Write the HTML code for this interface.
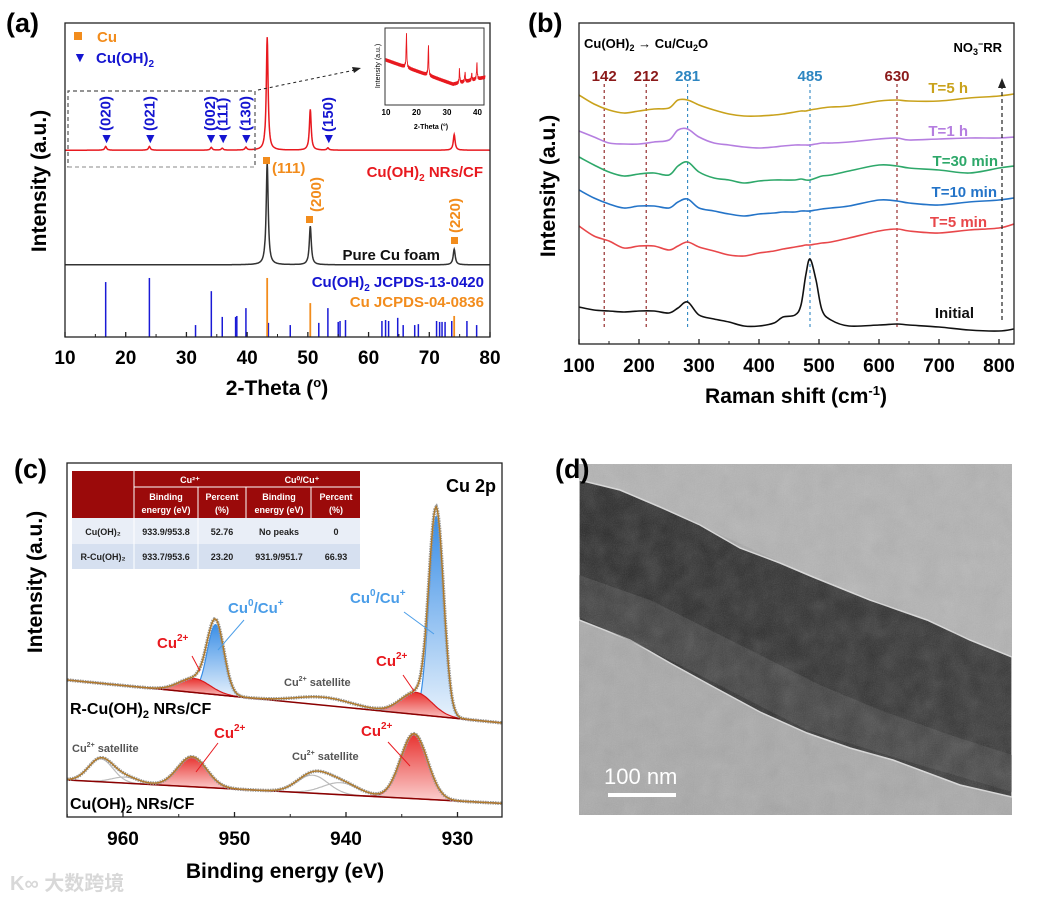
<!DOCTYPE html>
<html><head><meta charset="utf-8"><style>
html,body{margin:0;padding:0;background:#fff;}
svg{display:block;font-family:"Liberation Sans","Noto Sans CJK SC",sans-serif;}
.b{font-weight:bold;}
</style></head><body>
<svg id="fig" width="1038" height="900" viewBox="0 0 1038 900">
<defs>
<linearGradient id="blueg" x1="0" y1="0" x2="0" y2="1"><stop offset="0" stop-color="#3a8ee6"/><stop offset="1" stop-color="#e8f2fc"/></linearGradient>
<linearGradient id="redg" x1="0" y1="0" x2="0" y2="1"><stop offset="0" stop-color="#e8322f"/><stop offset="1" stop-color="#fbd0cf"/></linearGradient>
<linearGradient id="bandg" x1="0" y1="0" x2="1" y2="1"><stop offset="0" stop-color="#262626"/><stop offset="0.5" stop-color="#2c2c2c"/><stop offset="1" stop-color="#353535"/></linearGradient>
<filter id="noise"><feTurbulence type="fractalNoise" baseFrequency="0.9" numOctaves="2" seed="3"/><feColorMatrix type="saturate" values="0"/><feComponentTransfer><feFuncA type="linear" slope="0.18"/></feComponentTransfer></filter>
<filter id="blot"><feTurbulence type="fractalNoise" baseFrequency="0.05" numOctaves="3" seed="7"/><feColorMatrix type="saturate" values="0"/><feComponentTransfer><feFuncA type="linear" slope="0.35"/></feComponentTransfer></filter>
<clipPath id="clipB"><rect x="579" y="23" width="435" height="321"/></clipPath>
<clipPath id="clipC"><rect x="67" y="463" width="435" height="354"/></clipPath>
<clipPath id="clipD"><rect x="579" y="464" width="433" height="351"/></clipPath>
</defs>

<!-- ========== PANEL A ========== -->
<g id="panelA">
<text x="6" y="32" class="b" font-size="27">(a)</text>
<g id="aSticks"></g>
<g id="aCurves"></g>
<rect x="65" y="23" width="425" height="314" fill="none" stroke="#222" stroke-width="1.3"/>
<g id="aTicks"></g>
<text x="277" y="395" text-anchor="middle" class="b" font-size="21">2-Theta (<tspan font-size="13" dy="-8">o</tspan><tspan dy="8">)</tspan></text>
<text transform="translate(46,181) rotate(-90)" text-anchor="middle" class="b" font-size="21">Intensity (a.u.)</text>
<rect x="74" y="32" width="8" height="8" fill="#f28c1c"/>
<text x="97" y="42" class="b" font-size="15" fill="#f28c1c">Cu</text>
<text x="73" y="62" font-size="14" fill="#1515d0">▼</text>
<text x="96" y="63" class="b" font-size="15" fill="#1515d0">Cu(OH)<tspan font-size="10" dy="4">2</tspan></text>
<path d="M68,167 L255,167 L255,91 L68,91 Z" fill="none" stroke="#555" stroke-dasharray="4,3" stroke-width="1.2"/>
<path d="M68,167 L255,167" stroke="#bbb" stroke-dasharray="4,3" stroke-width="1.2" fill="none"/>
<line x1="258" y1="90" x2="355" y2="70" stroke="#222" stroke-dasharray="3,3" stroke-width="1"/>
<path d="M361,68 L352,67 L354,73 Z" fill="#222"/>
<g id="aAnn" fill="#1515d0" class="b" font-size="15"></g>
<text x="272" y="173" class="b" font-size="15" fill="#f28c1c">(111)</text>
<rect x="263" y="157" width="7" height="7" fill="#f28c1c"/>
<rect x="306" y="216" width="7" height="7" fill="#f28c1c"/>
<text transform="translate(321,212) rotate(-90)" class="b" font-size="15" fill="#f28c1c">(200)</text>
<rect x="451" y="237" width="7" height="7" fill="#f28c1c"/>
<text transform="translate(460,233) rotate(-90)" class="b" font-size="15" fill="#f28c1c">(220)</text>
<text x="483" y="177" text-anchor="end" class="b" font-size="15" fill="#e8191f">Cu(OH)<tspan font-size="10" dy="4">2</tspan><tspan dy="-4"> NRs/CF</tspan></text>
<text x="440" y="260" text-anchor="end" class="b" font-size="15" fill="#111">Pure Cu foam</text>
<text x="484" y="287" text-anchor="end" class="b" font-size="15" fill="#1515d0">Cu(OH)<tspan font-size="10" dy="4">2</tspan><tspan dy="-4"> JCPDS-13-0420</tspan></text>
<text x="484" y="307" text-anchor="end" class="b" font-size="15" fill="#f28c1c">Cu JCPDS-04-0836</text>
<g id="inset">
<rect x="385" y="28" width="99" height="77" fill="#fff" stroke="#333" stroke-width="1"/>
<g id="insetCurve"></g>
<text transform="translate(380,66) rotate(-90)" text-anchor="middle" font-size="7">Intensity (a.u.)</text>
<g id="insetTicks" font-size="8" font-weight="bold"></g>
<text x="431" y="129" text-anchor="middle" font-size="7" font-weight="bold">2-Theta (°)</text>
</g>
</g>

<!-- ========== PANEL B ========== -->
<g id="panelB">
<text x="528" y="32" class="b" font-size="27">(b)</text>
<g id="bGuides"></g>
<g id="bCurves" clip-path="url(#clipB)"></g>
<rect x="579" y="23" width="435" height="321" fill="none" stroke="#222" stroke-width="1.3"/>
<g id="bTicks"></g>
<text x="796" y="403" text-anchor="middle" class="b" font-size="21">Raman shift (cm<tspan font-size="13" dy="-8">-1</tspan><tspan dy="8">)</tspan></text>
<text transform="translate(555,186) rotate(-90)" text-anchor="middle" class="b" font-size="21">Intensity (a.u.)</text>
<text x="584" y="48" class="b" font-size="13">Cu(OH)<tspan font-size="9" dy="3">2</tspan><tspan dy="-3"> → Cu/Cu</tspan><tspan font-size="9" dy="3">2</tspan><tspan dy="-3">O</tspan></text>
<text x="1002" y="52" text-anchor="end" class="b" font-size="13">NO<tspan font-size="9" dy="3">3</tspan><tspan font-size="9" dy="-8">−</tspan><tspan dy="5">RR</tspan></text>
<g id="bSeriesLabels" class="b" font-size="15"></g>
<line x1="1002" y1="320" x2="1002" y2="88" stroke="#222" stroke-dasharray="4,3" stroke-width="1.2"/>
<path d="M1002,78 L998,88 L1006,88 Z" fill="#222"/>
</g>

<!-- ========== PANEL C ========== -->
<g id="panelC">
<text x="14" y="478" class="b" font-size="27">(c)</text>
<g id="cCurves" clip-path="url(#clipC)"></g>
<rect x="67" y="463" width="435" height="354" fill="none" stroke="#222" stroke-width="1.3"/>
<g id="cTicks"></g>
<text x="285" y="878" text-anchor="middle" class="b" font-size="21">Binding energy (eV)</text>
<text transform="translate(42,582) rotate(-90)" text-anchor="middle" class="b" font-size="21">Intensity (a.u.)</text>
<text x="496" y="492" text-anchor="end" class="b" font-size="18">Cu 2p</text>
<g id="xpsTable" font-size="9" font-weight="bold" text-anchor="middle">
<rect x="72" y="471" width="288" height="47" fill="#9b0a0a"/>
<rect x="72" y="518" width="288" height="26" fill="#e9eef7"/>
<rect x="72" y="544" width="288" height="25" fill="#d6e0f0"/>
<line x1="134" y1="471" x2="134" y2="569" stroke="#fff" stroke-width="1"/>
<line x1="134" y1="487" x2="360" y2="487" stroke="#fff" stroke-width="1"/>
<line x1="198" y1="487" x2="198" y2="569" stroke="#fff" stroke-width="1"/>
<line x1="311" y1="487" x2="311" y2="518" stroke="#fff" stroke-width="1"/>
<line x1="246" y1="487" x2="246" y2="518" stroke="#fff" stroke-width="1"/>
<g fill="#fff">
<text x="190" y="483">Cu²⁺</text><text x="302" y="483">Cu⁰/Cu⁺</text>
<text x="166" y="500">Binding</text><text x="166" y="513">energy (eV)</text>
<text x="222" y="500">Percent</text><text x="222" y="513">(%)</text>
<text x="279" y="500">Binding</text><text x="279" y="513">energy (eV)</text>
<text x="336" y="500">Percent</text><text x="336" y="513">(%)</text>
</g>
<g fill="#222">
<text x="103" y="535">Cu(OH)₂</text><text x="166" y="535">933.9/953.8</text><text x="222" y="535">52.76</text><text x="279" y="535">No peaks</text><text x="336" y="535">0</text>
<text x="103" y="560">R-Cu(OH)₂</text><text x="166" y="560">933.7/953.6</text><text x="222" y="560">23.20</text><text x="279" y="560">931.9/951.7</text><text x="336" y="560">66.93</text>
</g>
</g>
<g id="cAnn"></g>
</g>

<!-- ========== PANEL D ========== -->
<g id="panelD">
<g clip-path="url(#clipD)">
<rect x="579" y="464" width="433" height="351" fill="#a9a9a9"/>
<polygon points="579,464 1012,464 1012,657 927,620 813,577 660,507 579,480" fill="#b3b3b3"/>
<polygon points="579,480 620,490 660,507 700,525 740,548 780,563 813,577 870,600 927,620 970,640 1012,657 1012,797 960,785 893,760 850,748 807,733 760,712 710,685 670,663 630,640 579,620" fill="url(#bandg)" stroke="#ddd" stroke-width="1.5"/>
<polygon points="579,575 650,600 700,625 760,655 820,685 880,710 950,735 1012,755 1012,792 893,757 807,730 670,660 579,617" fill="#5a5a5a" opacity="0.4"/>
<rect x="579" y="464" width="433" height="351" filter="url(#blot)" opacity="0.5"/>
<rect x="579" y="464" width="433" height="351" filter="url(#noise)"/>
</g>
<text x="555" y="478" class="b" font-size="27">(d)</text>
<text x="604" y="784" fill="#fff" font-size="22">100 nm</text>
<rect x="608" y="793" width="68" height="4" fill="#fff"/>
</g>

<text x="10" y="890" font-size="20" fill="#d8d8d8" class="b">K∞ 大数跨境</text>
</svg>

<script>
const NS="http://www.w3.org/2000/svg";
function mk(tag,attrs,parent){const e=document.createElementNS(NS,tag);for(const k in attrs)e.setAttribute(k,attrs[k]);parent.appendChild(e);return e;}

/* ---------------- Panel A data ---------------- */
const aTickVals=[10,20,30,40,50,60,70,80];
const redPeakPos=[16.7,23.9,34.1,35.9,39.8,43.3,50.4,53.3,74.1];
const redPeakH=[1.2,1.2,0.9,0.6,0.9,36,13,0.7,5];
const redBase=59.5;
const blackPeakPos=[43.3,50.4,74.1];
const blackPeakH=[32.5,12.3,5];
const blackBase=23;
const blueStickPos=[16.7,23.9,31.5,34.1,35.9,38.1,38.3,39.8,43.5,47.1,51.8,53.3,55.0,55.3,56.2,62.2,62.8,63.3,64.8,65.7,67.6,68.2,71.2,71.7,72.1,72.6,73.7,76.2,77.8];
const blueStickH=[17.5,18.8,3.8,14.6,6.4,6.4,6.7,9.2,4.5,3.8,4.5,9.2,4.8,5.1,5.4,5.1,5.4,5.1,6.1,3.8,3.8,4.1,5.1,4.8,4.8,4.8,5.1,5.1,3.8];
const orangeStickPos=[43.3,50.4,74.1];
const orangeStickH=[18.8,10.8,6.7];
const aLabelHkl=["(020)","(021)","(002)","(111)","(130)","(150)"];
const aLabelPos=[16.7,23.9,33.9,35.9,39.7,53.3];

const xA=v=>65+(v-10)*425/70;
const yA=v=>337-v*3.14;
function xrdPath(pos,h,base,w){let d="";for(let x=10;x<=80.001;x+=0.05){let s=base;for(let i=0;i<pos.length;i++){const t=(x-pos[i])/w;s+=h[i]/(1+t*t);}d+=(d?"L":"M")+xA(x).toFixed(1)+","+yA(s).toFixed(1);}return d;}
const aC=document.getElementById("aCurves");
let p=mk("path",{d:xrdPath(redPeakPos,redPeakH,redBase,0.18),fill:"none",stroke:"#e8191f","stroke-width":1.5},aC);


p=mk("path",{d:xrdPath(blackPeakPos,blackPeakH,blackBase,0.2),fill:"none",stroke:"#333","stroke-width":1.5},aC);


const aS=document.getElementById("aSticks");
blueStickPos.forEach((v,i)=>{const l=mk("line",{x1:xA(v),x2:xA(v),y1:yA(0),y2:yA(blueStickH[i]),stroke:"#1a1ad6","stroke-width":1.5},aS);

});
orangeStickPos.forEach((v,i)=>{const l=mk("line",{x1:xA(v),x2:xA(v),y1:yA(0),y2:yA(orangeStickH[i]),stroke:"#f28c1c","stroke-width":1.8},aS);

});
const aT=document.getElementById("aTicks");
aTickVals.forEach(v=>{mk("line",{x1:xA(v),x2:xA(v),y1:337,y2:332,stroke:"#222","stroke-width":1.3},aT);
if(v<80)mk("line",{x1:xA(v+5),x2:xA(v+5),y1:337,y2:334,stroke:"#222","stroke-width":1},aT);
const t=mk("text",{x:xA(v),y:364,"text-anchor":"middle","font-size":19,"font-weight":"bold"},aT);t.textContent=v;

});
const aA=document.getElementById("aAnn");
aLabelPos.forEach((v,i)=>{const tr=mk("text",{x:xA(v)-6,y:143,"font-size":14},aA);tr.textContent="▼";


const t=mk("text",{transform:`translate(${xA(v)+5},${i==5?132:131}) rotate(-90)`,"font-size":15},aA);t.textContent=aLabelHkl[i];

});
const insetPeakPos=[16.7,23.9,34.1,35.9,38.1,39.8];
const insetPeakH=[32,28,12,9,6,15];
const insetTicks=[10,20,30,40];
const xI=v=>386+(v-10)*3.05;
const yI=v=>104-v*1.1;
let di="";for(let x=10;x<=42.5;x+=0.08){let s=40-22*(x-10)/22;if(x>32)s=18+(x-32)*0.6;s+=((Math.floor(x*12.5)%3)-1)*1.6;for(let i=0;i<insetPeakPos.length;i++){const t=(x-insetPeakPos[i])/0.12;s+=insetPeakH[i]/(1+t*t);}di+=(di?"L":"M")+xI(x).toFixed(1)+","+yI(s).toFixed(1);}
p=mk("path",{d:di,fill:"none",stroke:"#e8191f","stroke-width":0.9},document.getElementById("insetCurve"));


insetTicks.forEach(v=>{const t=mk("text",{x:xI(v),y:115,"text-anchor":"middle"},document.getElementById("insetTicks"));t.textContent=v;

});

/* ---------------- Panel B data ---------------- */
const bTickVals=[100,200,300,400,500,600,700,800];
const ramanX=[100,125,150,175,200,225,250,265,281,300,325,350,375,400,425,440,460,470,478,485,495,505,520,550,600,630,650,700,750,800,825];
const initialI=[37,34,33,32,33,33,31,36,42,29,25,22,18,18,21,27,29,39,69,85,64,34,24,18,19,20,19,17,14,13,15];
const t5minI=[118,108,103,96,98,98,94,98,102,97,93,89,88,91,93,95,97,98,99,99,100,101,102,106,113,115,113,111,114,116,120];
const t10minI=[154,146,140,136,138,138,136,142,145,136,133,130,128,130,131,132,132,133,133,133,134,135,136,138,144,143,141,139,142,144,146];
const t30minI=[187,179,172,168,170,171,169,178,182,172,166,164,161,163,164,164,164,165,164,164,166,168,169,173,179,178,176,174,171,176,178];
const t1hI=[213,207,201,200,200,202,204,214,215,207,201,199,197,196,197,198,199,199,199,199,200,201,201,202,205,206,204,205,206,206,207];
const t5hI=[249,240,234,231,233,235,236,244,244,239,234,230,228,228,229,230,232,233,233,234,235,236,237,238,243,244,243,243,246,248,250];
const bSeriesNames=["Initial","T=5 min","T=10 min","T=30 min","T=1 h","T=5 h"];
const bGuidePos=[142,212,281,485,630];
const bGuideLabels=["142","212","281","485","630"];
const xB=v=>579+(v-100)*0.6;
const yB=v=>344-v;
const bSeries=[initialI,t5minI,t10minI,t30minI,t1hI,t5hI];
const bColors=["#111","#e8474a","#2474c8","#2ea86a","#b57ee0","#c9a21c"];
const bLabelPos=[[974,318],[987,227],[997,197],[998,166],[968,136],[968,93]];
const bC=document.getElementById("bCurves");
function smoothPath(xs,ys){let d="M"+xs[0]+","+ys[0];for(let i=0;i<xs.length-1;i++){const x0=xs[Math.max(0,i-1)],y0=ys[Math.max(0,i-1)],x1=xs[i],y1=ys[i],x2=xs[i+1],y2=ys[i+1],x3=xs[Math.min(xs.length-1,i+2)],y3=ys[Math.min(xs.length-1,i+2)];d+=`C${(x1+(x2-x0)/6).toFixed(1)},${(y1+(y2-y0)/6).toFixed(1)} ${(x2-(x3-x1)/6).toFixed(1)},${(y2-(y3-y1)/6).toFixed(1)} ${x2.toFixed(1)},${y2.toFixed(1)}`;}return d;}
bSeries.forEach((s,k)=>{const pp=mk("path",{d:smoothPath(ramanX.map(xB),s.map(yB)),fill:"none",stroke:bColors[k],"stroke-width":1.6},bC);


const t=mk("text",{x:bLabelPos[k][0],y:bLabelPos[k][1],"text-anchor":"end",fill:bColors[k]},document.getElementById("bSeriesLabels"));t.textContent=bSeriesNames[k];

});
const bG=document.getElementById("bGuides");
bGuidePos.forEach((v,i)=>{const col=(v===281||v===485)?"#2e86c1":"#8b1a1a";
const l=mk("line",{x1:xB(v),x2:xB(v),y1:84,y2:330,stroke:col,"stroke-dasharray":"3,3","stroke-width":1.1},bG);


const t=mk("text",{x:xB(v),y:81,"text-anchor":"middle",fill:col,"font-size":15,"font-weight":"bold"},bG);t.textContent=bGuideLabels[i];

});
const bT=document.getElementById("bTicks");
bTickVals.forEach(v=>{mk("line",{x1:xB(v),x2:xB(v),y1:344,y2:339,stroke:"#222","stroke-width":1.3},bT);
if(v<800)mk("line",{x1:xB(v+50),x2:xB(v+50),y1:344,y2:341,stroke:"#222","stroke-width":1},bT);
const t=mk("text",{x:xB(v),y:372,"text-anchor":"middle","font-size":19,"font-weight":"bold"},bT);t.textContent=v;

});

/* ---------------- Panel C data ---------------- */
const cTickVals=[960,950,940,930];
const upperBaseStart=[965,137];
const upperBaseEnd=[925,93];
const upperCompPos=[931.9,933.7,942.0,951.7,953.6];
const upperCompH=[200,22,8,70,14];
const upperCompW=[0.65,1.4,2.5,0.75,1.4];
const upperCompKind=["cu0","cu2","sat","cu0","cu2"];
const lowerBaseStart=[965,37];
const lowerBaseEnd=[925,13];
const lowerCompPos=[933.9,943.0,940.5,953.8,962.0,959.8];
const lowerCompH=[65,18,12,30,23,6];
const lowerCompW=[1.2,1.4,1.6,1.3,1.1,1.2];
const lowerCompKind=["cu2","sat","sat","cu2","sat","sat"];
const xC=v=>123+(960-v)*11.15;
const yC=v=>817-v;
const cC=document.getElementById("cCurves");
function baseAt(b0,b1,e){return b0[1]+(b1[1]-b0[1])*(e-b0[0])/(b1[0]-b0[0]);}
function gauss(e,p,h,w){const t=(e-p)/w;return h*Math.exp(-0.5*t*t);}
function drawXps(b0,b1,pos,h,w,kind,name){
  const step=0.1;
  pos.forEach((pp,i)=>{let d="",back="";for(let e=pp-4*w[i];e<=pp+4*w[i];e+=step){const b=baseAt(b0,b1,e);d+=(d?"L":"M")+xC(e).toFixed(1)+","+yC(b+gauss(e,pp,h[i],w[i])).toFixed(1);back="L"+xC(e).toFixed(1)+","+yC(b).toFixed(1)+back;}
    const fill=kind[i]==="cu0"?"url(#blueg)":kind[i]==="cu2"?"url(#redg)":"none";
    const stroke=kind[i]==="cu0"?"#3a8ee6":kind[i]==="cu2"?"#d8191c":"#bbb";
    const c=mk("path",{d:d+back+"Z",fill:fill,stroke:stroke,"stroke-width":1.2},cC);
    
    });
  const bl=mk("line",{x1:xC(b0[0]),y1:yC(b0[1]),x2:xC(b1[0]),y2:yC(b1[1]),stroke:"#8b0000","stroke-width":1.5},cC);
  
  
  let env="";for(let e=965;e>=925;e-=step){let s=baseAt(b0,b1,e);pos.forEach((pp,i)=>s+=gauss(e,pp,h[i],w[i]));env+=(env?"L":"M")+xC(e).toFixed(1)+","+yC(s).toFixed(1);}
  const raw=mk("path",{d:env,fill:"none",stroke:"#9a9a9a","stroke-width":3.5,"stroke-dasharray":"1.5,1"},cC);
  
  
  const fit=mk("path",{d:env,fill:"none",stroke:"#b07a2a","stroke-width":1.4},cC);
  
  
}
drawXps(upperBaseStart,upperBaseEnd,upperCompPos,upperCompH,upperCompW,upperCompKind,"r-cuoh2");
drawXps(lowerBaseStart,lowerBaseEnd,lowerCompPos,lowerCompH,lowerCompW,lowerCompKind,"cuoh2");
const cT=document.getElementById("cTicks");
cTickVals.forEach(v=>{mk("line",{x1:xC(v),x2:xC(v),y1:817,y2:812,stroke:"#222","stroke-width":1.3},cT);
mk("line",{x1:xC(v+5),x2:xC(v+5),y1:817,y2:814,stroke:"#222","stroke-width":1},cT);
const t=mk("text",{x:xC(v),y:845,"text-anchor":"middle","font-size":19,"font-weight":"bold"},cT);t.textContent=v;

});
const cA=document.getElementById("cAnn");
cA.innerHTML=`
<text x="70" y="714" font-size="16" font-weight="bold">R-Cu(OH)<tspan font-size="11" dy="4">2</tspan><tspan dy="-4"> NRs/CF</tspan></text>
<text x="70" y="809" font-size="16" font-weight="bold">Cu(OH)<tspan font-size="11" dy="4">2</tspan><tspan dy="-4"> NRs/CF</tspan></text>
<text x="228" y="613" font-size="15" font-weight="bold" fill="#4a9de8">Cu<tspan font-size="10" dy="-7">0</tspan><tspan dy="7">/Cu</tspan><tspan font-size="10" dy="-7">+</tspan></text>
<text x="350" y="603" font-size="15" font-weight="bold" fill="#4a9de8">Cu<tspan font-size="10" dy="-7">0</tspan><tspan dy="7">/Cu</tspan><tspan font-size="10" dy="-7">+</tspan></text>
<line x1="218" y1="650" x2="244" y2="620" stroke="#4a9de8"/><line x1="434" y1="634" x2="404" y2="612" stroke="#4a9de8"/>
<text x="157" y="648" font-size="15" font-weight="bold" fill="#e8191f">Cu<tspan font-size="10" dy="-7">2+</tspan></text>
<text x="376" y="666" font-size="15" font-weight="bold" fill="#e8191f">Cu<tspan font-size="10" dy="-7">2+</tspan></text>
<text x="214" y="738" font-size="15" font-weight="bold" fill="#e8191f">Cu<tspan font-size="10" dy="-7">2+</tspan></text>
<text x="361" y="736" font-size="15" font-weight="bold" fill="#e8191f">Cu<tspan font-size="10" dy="-7">2+</tspan></text>
<line x1="200" y1="671" x2="192" y2="656" stroke="#e8191f"/><line x1="414" y1="691" x2="403" y2="675" stroke="#e8191f"/>
<line x1="196" y1="772" x2="218" y2="743" stroke="#e8191f"/><line x1="410" y1="766" x2="388" y2="742" stroke="#e8191f"/>
<text x="284" y="686" font-size="11" fill="#555" font-weight="bold">Cu<tspan font-size="7" dy="-5">2+</tspan><tspan dy="5"> satellite</tspan></text>
<text x="72" y="752" font-size="11" fill="#555" font-weight="bold">Cu<tspan font-size="7" dy="-5">2+</tspan><tspan dy="5"> satellite</tspan></text>
<text x="292" y="760" font-size="11" fill="#555" font-weight="bold">Cu<tspan font-size="7" dy="-5">2+</tspan><tspan dy="5"> satellite</tspan></text>`;
</script>
</body></html>
